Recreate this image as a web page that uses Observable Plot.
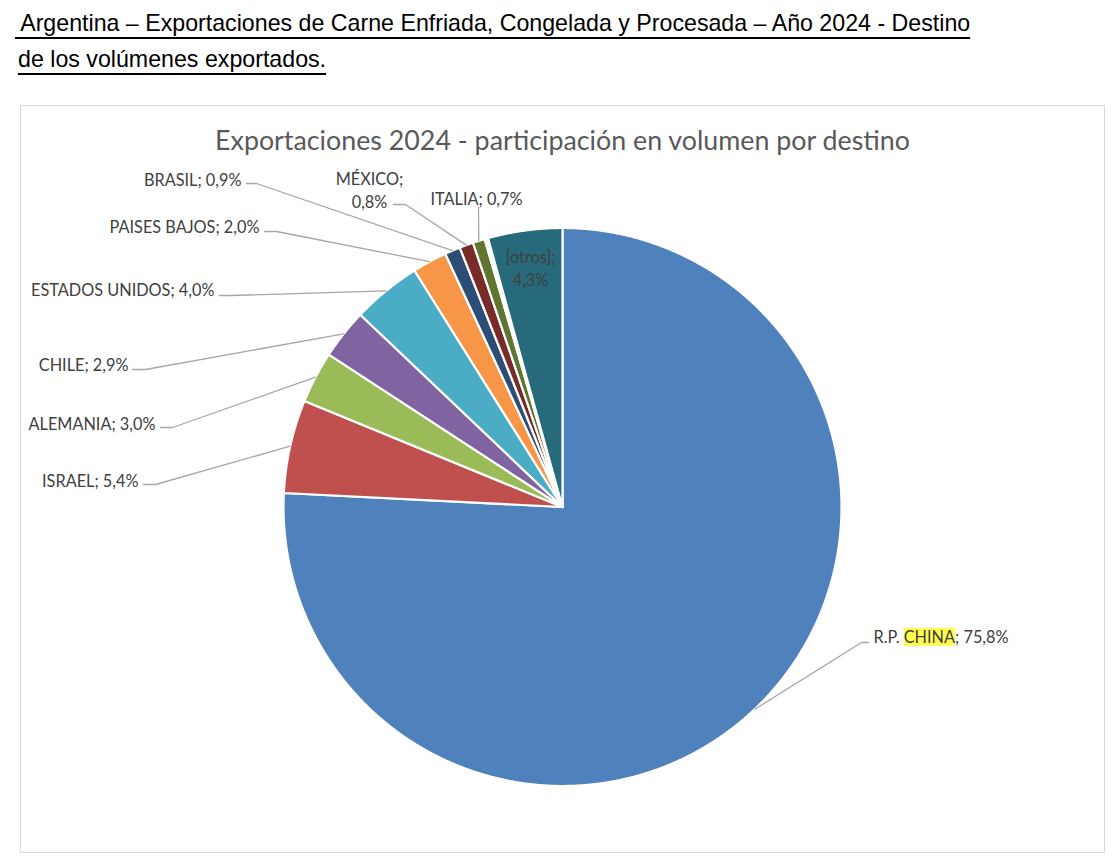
<!DOCTYPE html>
<html>
<head>
<meta charset="utf-8">
<script src="https://cdn.jsdelivr.net/npm/d3@7"></script>
<script src="https://cdn.jsdelivr.net/npm/@observablehq/plot@0.6"></script>
<style>
  html, body { margin: 0; padding: 0; background: #fff; }
  body { width: 1118px; height: 864px; position: relative; overflow: hidden; }
  .doc { position: absolute; font-family: "Liberation Sans", Arial, sans-serif; font-size: 23.2px; color: #000;
         text-decoration: underline; text-decoration-thickness: 2px; text-underline-offset: 6px; white-space: pre; line-height: 26px; }
  #frame { position: absolute; left: 20px; top: 105px; width: 1083px; height: 746px; border: 1px solid #d9d9d9; }
  #chart { position: absolute; left: 0; top: 0; }
  #ctitle { position: absolute; left: 0; width: 100%; top: 19px; text-align: center; font-family: Lato, "Open Sans", sans-serif;
            font-size: 26.8px; line-height: 30px; color: #595959; }
</style>
</head>
<body>
<div class="doc" id="t1" style="left:15px; top:10px;"></div>
<div class="doc" id="t2" style="left:18px; top:46px;"></div>
<div id="frame">
  <div id="chart"></div>
  <div id="ctitle"></div>
</div>
<script>
// ---------------- data ----------------
const docTitle1 = " Argentina – Exportaciones de Carne Enfriada, Congelada y Procesada – Año 2024 - Destino";
const docTitle2 = "de los volúmenes exportados.";
const chartTitle = "Exportaciones 2024 - participación en volumen por destino";

const destinos = ["R.P. CHINA", "ISRAEL", "ALEMANIA", "CHILE", "ESTADOS UNIDOS", "PAISES BAJOS", "BRASIL", "MÉXICO", "ITALIA", "", "[otros]"];
const participacion = [75.8, 5.4, 3.0, 2.9, 4.0, 2.0, 0.9, 0.8, 0.7, 0.2, 4.3];
const colores = ["#4f81bd", "#c0504d", "#9bbb59", "#8064a2", "#4bacc6", "#f79646", "#2c4d75", "#772c2a", "#5f7530", "#ffffff", "#276a7c"];

// ---------------- layout (page pixels) ----------------
const FRAME = {left: 21, top: 106, width: 1083, height: 746};
const PIE = {cx: 562, cy: 506.5, r: 279};
// label anchor points and leader-line start/elbow points (page px)
const labelLayout = [
  {name: "R.P. CHINA",     x: 873, y: 635,   anchor: "start",  lead: [[868, 642], [861, 642]]},
  {name: "ISRAEL",         x: 138, y: 479,   anchor: "end",    lead: [[143, 484], [155, 484]]},
  {name: "ALEMANIA",       x: 155, y: 422,   anchor: "end",    lead: [[160, 427], [172, 427]]},
  {name: "CHILE",          x: 128, y: 363,   anchor: "end",    lead: [[132, 369], [145, 369]]},
  {name: "ESTADOS UNIDOS", x: 214, y: 288,   anchor: "end",    lead: [[219, 295], [231, 295]]},
  {name: "PAISES BAJOS",   x: 259, y: 225,   anchor: "end",    lead: [[264, 231], [276, 231]]},
  {name: "BRASIL",         x: 241, y: 178,   anchor: "end",    lead: [[246, 183], [256, 183]]},
  {name: "MÉXICO",         x: 369, y: 188.5, anchor: "middle", split: true, lead: [[393, 204], [405, 204]]},
  {name: "ITALIA",         x: 476, y: 197,   anchor: "middle", lead: [[478, 207]]},
  {name: "[otros]",        x: 530, y: 266.5, anchor: "middle", split: true, lead: null}
];

document.getElementById("t1").textContent = docTitle1;
document.getElementById("t2").textContent = docTitle2;
document.getElementById("ctitle").textContent = chartTitle;

// ---------------- build ----------------
const rows = destinos.map((name, i) => ({id: i, name, value: participacion[i], color: colores[i]}));
const arcs = d3.pie().sort(null).value(d => d.value)(rows);

const slicePts = arcs.flatMap(a => {
  const n = Math.max(2, Math.ceil((a.endAngle - a.startAngle) / 0.004));
  const pts = [{id: a.data.id, color: a.data.color, x: 0, y: 0}];
  for (let k = 0; k <= n; k++) {
    const t = a.startAngle + (a.endAngle - a.startAngle) * k / n;
    pts.push({id: a.data.id, color: a.data.color, x: Math.sin(t), y: Math.cos(t)});
  }
  return pts;
});

const toX = px => (px - PIE.cx) / PIE.r;
const toY = py => (PIE.cy - py) / PIE.r;
const fmt = v => d3.format(".1f")(v).replace(".", ",") + "%";

const labels = labelLayout.map(L => {
  const a = arcs.find(d => d.data.name === L.name);
  return {...L, lx: toX(L.x), ly: toY(L.y),
    text: L.name + ";" + (L.split ? "\n" : " ") + fmt(a.data.value), arc: a};
});

const leaderPts = labels.filter(L => L.lead).flatMap(L => {
  const mid = (L.arc.startAngle + L.arc.endAngle) / 2;
  return [...L.lead.map(([px, py]) => ({name: L.name, x: toX(px), y: toY(py)})),
          {name: L.name, x: Math.sin(mid), y: Math.cos(mid)}];
});

const W = FRAME.width, H = FRAME.height;
const cxs = PIE.cx - FRAME.left, cys = PIE.cy - FRAME.top;

const LABEL_FONT = "Lato, 'Open Sans', sans-serif";
const textOpts = anchor => ({x: "lx", y: "ly", text: "text", textAnchor: anchor, fontSize: 16.3,
  fill: "#404040", fontFamily: LABEL_FONT, lineHeight: 1.4});

const plot = Plot.plot({
  width: W, height: H, margin: 0,
  x: {domain: [-cxs / PIE.r, (W - cxs) / PIE.r], range: [0, W], axis: null},
  y: {domain: [(cys - H) / PIE.r, cys / PIE.r], range: [H, 0], axis: null},
  color: {type: "identity"},
  style: {background: "transparent", overflow: "visible"},
  marks: [
    Plot.line(slicePts, {x: "x", y: "y", z: "id", fill: "color", stroke: "white", strokeWidth: 2.2,
      strokeLinejoin: "round", curve: "linear-closed"}),
    Plot.line(leaderPts, {x: "x", y: "y", z: "name", stroke: "#a6a6a6", strokeWidth: 1.3}),
    Plot.text(labels.filter(d => d.anchor === "end"), textOpts("end")),
    Plot.text(labels.filter(d => d.anchor === "start"), textOpts("start")),
    Plot.text(labels.filter(d => d.anchor === "middle"), textOpts("middle"))
  ]
});
document.getElementById("chart").appendChild(plot);

// highlight the word CHINA as in the source document
const tnode = [...plot.querySelectorAll("text")].find(e => e.textContent.startsWith("R.P."));
if (tnode) {
  const full = tnode.textContent;
  const i = full.indexOf("CHINA");
  const e0 = tnode.getExtentOfChar(i), e1 = tnode.getExtentOfChar(i + 4);
  const rect = document.createElementNS("http://www.w3.org/2000/svg", "rect");
  rect.setAttribute("x", e0.x);
  rect.setAttribute("y", e0.y + 1);
  rect.setAttribute("width", e1.x + e1.width - e0.x);
  rect.setAttribute("height", e0.height - 1);
  rect.setAttribute("fill", "#ffff4d");
  if (tnode.getAttribute("transform")) rect.setAttribute("transform", tnode.getAttribute("transform"));
  tnode.parentNode.insertBefore(rect, tnode);
}
</script>
</body>
</html>
